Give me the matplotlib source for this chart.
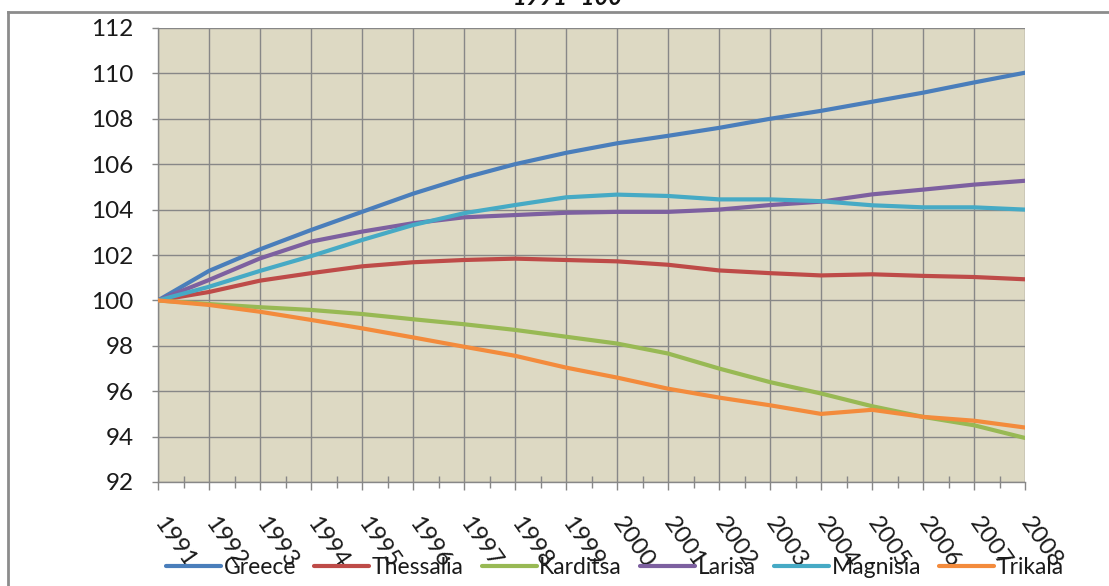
import matplotlib
matplotlib.use("Agg")
import matplotlib.pyplot as plt
from matplotlib.lines import Line2D
from matplotlib.ticker import MultipleLocator

plt.rcParams['font.family'] = ['Lato', 'DejaVu Sans']

years = ['1991', '1992', '1993', '1994', '1995', '1996', '1997', '1998', '1999',
         '2000', '2001', '2002', '2003', '2004', '2005', '2006', '2007', '2008']

greece = [100.0, 101.3, 102.25, 103.1, 103.9, 104.7, 105.4, 106.0, 106.5,
          106.92, 107.25, 107.6, 108.0, 108.35, 108.75, 109.15, 109.6, 110.03]
thessalia = [100.0, 100.37, 100.87, 101.2, 101.5, 101.68, 101.78, 101.84, 101.78,
             101.72, 101.57, 101.32, 101.2, 101.1, 101.15, 101.08, 101.03, 100.93]
karditsa = [100.0, 99.84, 99.7, 99.58, 99.4, 99.17, 98.95, 98.7, 98.4,
            98.1, 97.66, 97.0, 96.4, 95.9, 95.34, 94.87, 94.5, 93.94]
larisa = [100.0, 100.9, 101.85, 102.59, 103.03, 103.4, 103.66, 103.76, 103.86,
          103.9, 103.9, 104.0, 104.2, 104.35, 104.67, 104.88, 105.1, 105.27]
magnisia = [100.0, 100.6, 101.3, 101.95, 102.66, 103.32, 103.84, 104.2, 104.54,
            104.66, 104.6, 104.45, 104.45, 104.37, 104.19, 104.1, 104.1, 104.0]
trikala = [100.0, 99.8, 99.5, 99.14, 98.77, 98.37, 97.96, 97.56, 97.04,
           96.6, 96.11, 95.72, 95.38, 95.0, 95.18, 94.87, 94.7, 94.4]

series = [
    ('Greece', greece, '#4A7EBB'),
    ('Thessalia', thessalia, '#BE4B48'),
    ('Karditsa', karditsa, '#98B954'),
    ('Larisa', larisa, '#7D60A0'),
    ('Magnisia', magnisia, '#46AAC5'),
    ('Trikala', trikala, '#F38B3C'),
]

W, H = 1109, 586
fig = plt.figure(figsize=(W / 100, H / 100), dpi=100)
fig.patch.set_facecolor('white')

ax = fig.add_axes([158 / W, 1 - 482 / H, (1025 - 158) / W, (482 - 28) / H])
ax.set_facecolor('#DDD9C3')

x = list(range(len(years)))
handles = []
for name, vals, col in series:
    ln, = ax.plot(x, vals, color=col, lw=3.0, solid_capstyle='round',
                  solid_joinstyle='round', label=name, zorder=3)
    handles.append(ln)

grid_col = '#878787'
ax.set_xlim(0, len(years) - 1)
ax.set_ylim(92, 112)
ax.yaxis.set_major_locator(MultipleLocator(2))
ax.set_xticks(x)
ax.set_xticks([i + 0.5 for i in x[:-1]], minor=True)
ax.grid(True, which='major', color=grid_col, lw=1.0, zorder=1)

for side in ['top', 'right']:
    ax.spines[side].set_visible(False)
ax.spines['left'].set_color(grid_col)
ax.spines['bottom'].set_color(grid_col)
ax.spines['left'].set_linewidth(1.0)
ax.spines['bottom'].set_linewidth(1.0)

ax.tick_params(axis='y', which='major', length=4.5, width=1.0, color=grid_col,
               labelsize=17.5, labelcolor='#1a1a1a', pad=13)
ax.tick_params(axis='x', which='major', length=5.8, width=1.0, color=grid_col,
               direction='out', labelsize=17.5, labelcolor='#1a1a1a', pad=21)
ax.tick_params(axis='x', which='minor', length=9, width=1.0, color=grid_col,
               direction='inout')

ax.set_xticklabels(years, rotation=-55, rotation_mode='anchor',
                   ha='left', va='center')

leg = fig.legend(handles=handles, loc='center',
                 bbox_to_anchor=(615 / W, 1 - 568 / H), ncol=6, frameon=False,
                 fontsize=16.5, handlelength=2.4, handletextpad=0.1,
                 columnspacing=0.8, borderpad=0.0)
for t in leg.get_texts():
    t.set_color('#1a1a1a')

# outer chart frame
frame_col = '#8C8C8C'
fig.add_artist(Line2D([8 / W, 8 / W], [1 - 12 / H, 0], transform=fig.transFigure,
                      color=frame_col, lw=2.0))
fig.add_artist(Line2D([8 / W, 1], [1 - 12 / H, 1 - 12 / H], transform=fig.transFigure,
                      color=frame_col, lw=2.0))

fig.text(568 / W, 1 - 5 / H, '1991=100', ha='center', va='baseline',
         fontsize=17, fontweight='bold', fontstyle='italic', color='#111111')

fig.savefig('out.png', dpi=100)
